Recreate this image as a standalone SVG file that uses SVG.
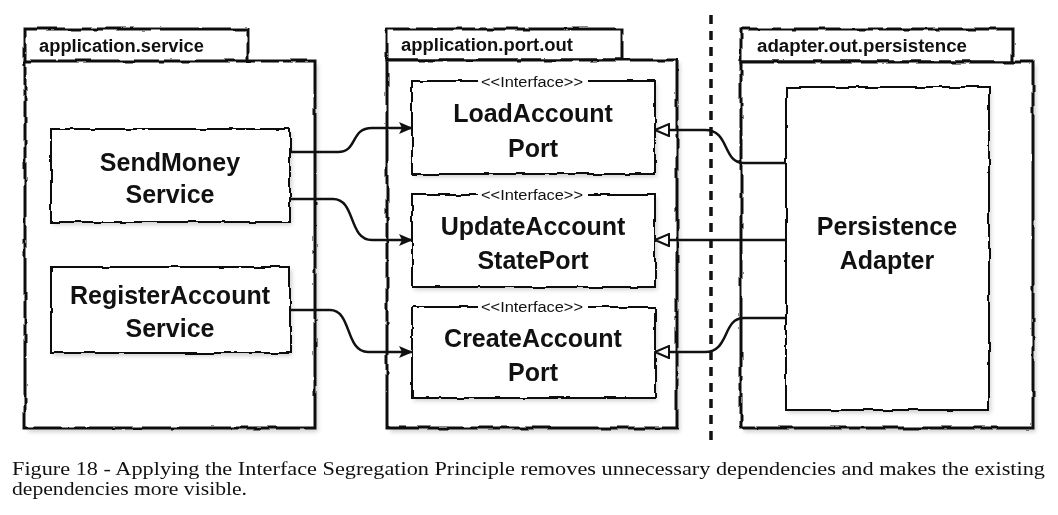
<svg xmlns="http://www.w3.org/2000/svg" width="1058" height="515" viewBox="0 0 1058 515">
<style>
.pkg{fill:#fff;stroke:#111;stroke-width:3}
.box{fill:#fff;stroke:#111;stroke-width:2}
.shadow{fill:#000;opacity:0.18}
.plabel{font-family:"Liberation Sans",Arial,sans-serif;font-weight:bold;font-size:18px;fill:#111}
.title{font-family:"Liberation Sans",Arial,sans-serif;font-weight:bold;font-size:25px;fill:#111;text-anchor:middle}
.stereo{font-family:"Liberation Sans",Arial,sans-serif;font-size:14px;fill:#111;text-anchor:middle}
.conn{fill:none;stroke:#111;stroke-width:2.5}
.caption{font-family:"Liberation Serif","Times New Roman",serif;font-size:18px;fill:#111}
</style>
<defs>
<filter id="rough" x="-5%" y="-5%" width="110%" height="110%">
<feTurbulence type="fractalNoise" baseFrequency="0.06" numOctaves="2" seed="3" result="n"/>
<feDisplacementMap in="SourceGraphic" in2="n" scale="3.5" xChannelSelector="R" yChannelSelector="G"/>
</filter>
<filter id="blur"><feGaussianBlur stdDeviation="2"/></filter>
<marker id="filled" viewBox="0 0 14 12" refX="13" refY="6" markerWidth="14" markerHeight="12" markerUnits="userSpaceOnUse" orient="auto">
<path d="M0,0 L14,6 L0,12 L3,6 Z" fill="#111"/>
</marker>
<marker id="hollow" viewBox="0 0 16 14" refX="15" refY="7" markerWidth="16" markerHeight="14" markerUnits="userSpaceOnUse" orient="auto">
<path d="M1,1 L15,7 L1,13 Z" fill="#fff" stroke="#111" stroke-width="2"/>
</marker>
</defs>
<rect width="1058" height="515" fill="#fff"/>

<g filter="url(#blur)">
<rect class="shadow" x="28" y="64" width="290" height="368"/>
<rect class="shadow" x="390" y="63" width="290" height="369"/>
<rect class="shadow" x="744" y="65" width="292" height="367"/>
</g>

<g id="pkg-service" filter="url(#rough)">
<rect class="pkg" x="25" y="29" width="223" height="33"/>
<rect class="pkg" x="25" y="61" width="290" height="367"/>
</g>
<text class="plabel" x="39" y="52" textLength="165" lengthAdjust="spacingAndGlyphs">application.service</text>

<g id="pkg-port" filter="url(#rough)">
<rect class="pkg" x="387" y="29" width="235" height="31"/>
<rect class="pkg" x="387" y="60" width="290" height="368"/>
</g>
<text class="plabel" x="401" y="51" textLength="172" lengthAdjust="spacingAndGlyphs">application.port.out</text>

<g id="pkg-adapter" filter="url(#rough)">
<rect class="pkg" x="741" y="29" width="272" height="33"/>
<rect class="pkg" x="741" y="62" width="292" height="366"/>
</g>
<text class="plabel" x="757" y="52" textLength="210" lengthAdjust="spacingAndGlyphs">adapter.out.persistence</text>

<line x1="711" y1="15" x2="711" y2="445" stroke="#111" stroke-width="3.5" stroke-dasharray="9,7"/>

<g filter="url(#blur)">
<rect class="shadow" x="53" y="132" width="239" height="93"/>
<rect class="shadow" x="53" y="270" width="239" height="86"/>
<rect class="shadow" x="414" y="84" width="243" height="93"/>
<rect class="shadow" x="414" y="198" width="243" height="92"/>
<rect class="shadow" x="414" y="310" width="243" height="91"/>
<rect class="shadow" x="788" y="90" width="203" height="323"/>
</g>

<g id="sendmoney">
<rect class="box" x="51" y="129" width="239" height="93" filter="url(#rough)"/>
<text class="title" x="170" y="171">SendMoney</text>
<text class="title" x="170" y="203">Service</text>
</g>

<g id="registeraccount">
<rect class="box" x="51" y="267" width="239" height="86" filter="url(#rough)"/>
<text class="title" x="170" y="304">RegisterAccount</text>
<text class="title" x="170" y="337">Service</text>
</g>

<g id="loadaccountport">
<rect class="box" x="412" y="81" width="243" height="93" filter="url(#rough)"/>
<rect x="478" y="75" width="110" height="13" fill="#fff"/>
<text class="stereo" x="532" y="87" textLength="102" lengthAdjust="spacingAndGlyphs">&lt;&lt;Interface&gt;&gt;</text>
<text class="title" x="533" y="122">LoadAccount</text>
<text class="title" x="533" y="157">Port</text>
</g>

<g id="updateaccountstateport">
<rect class="box" x="412" y="195" width="243" height="92" filter="url(#rough)"/>
<rect x="478" y="189" width="110" height="13" fill="#fff"/>
<text class="stereo" x="532" y="200" textLength="102" lengthAdjust="spacingAndGlyphs">&lt;&lt;Interface&gt;&gt;</text>
<text class="title" x="533" y="235">UpdateAccount</text>
<text class="title" x="533" y="269">StatePort</text>
</g>

<g id="createaccountport">
<rect class="box" x="412" y="307" width="243" height="91" filter="url(#rough)"/>
<rect x="478" y="301" width="110" height="13" fill="#fff"/>
<text class="stereo" x="532" y="312" textLength="102" lengthAdjust="spacingAndGlyphs">&lt;&lt;Interface&gt;&gt;</text>
<text class="title" x="533" y="347">CreateAccount</text>
<text class="title" x="533" y="381">Port</text>
</g>

<g id="persistenceadapter">
<rect class="box" x="786" y="87" width="203" height="323" filter="url(#rough)"/>
<text class="title" x="887" y="235">Persistence</text>
<text class="title" x="887" y="269">Adapter</text>
</g>

<g id="connectors">
<path class="conn" marker-end="url(#filled)" d="M290,152 L338,152 C358,152 350,128 372,128 L412,128"/>
<path class="conn" marker-end="url(#filled)" d="M290,199 L333,199 C356,199 348,240 372,240 L412,240"/>
<path class="conn" marker-end="url(#filled)" d="M290,310 L330,310 C352,310 345,352 368,352 L412,352"/>
<path class="conn" marker-end="url(#hollow)" d="M786,163 L744,163 C722,163 730,130 705,130 L655,130"/>
<path class="conn" marker-end="url(#hollow)" d="M786,240 L655,240"/>
<path class="conn" marker-end="url(#hollow)" d="M786,318 L744,318 C722,318 730,352 705,352 L655,352"/>
</g>

<text class="caption" x="12" y="475" textLength="1033" lengthAdjust="spacingAndGlyphs">Figure 18 - Applying the Interface Segregation Principle removes unnecessary dependencies and makes the existing</text>
<text class="caption" x="12" y="495" textLength="235" lengthAdjust="spacingAndGlyphs">dependencies more visible.</text>
</svg>
